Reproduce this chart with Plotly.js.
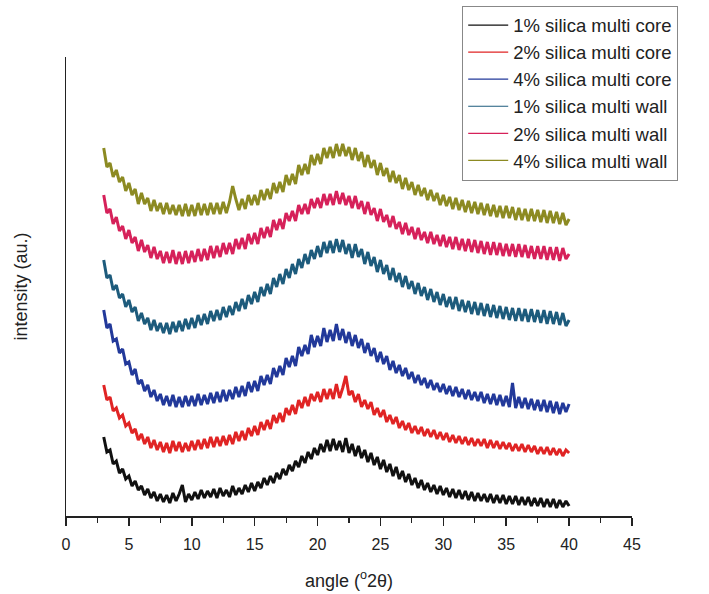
<!DOCTYPE html>
<html>
<head>
<meta charset="utf-8">
<script src="https://cdn.plot.ly/plotly-3.0.1.min.js"></script>
<style>html,body{margin:0;padding:0;background:#fff;}#chart{width:709px;height:594px;}</style>
</head>
<body>
<div id="chart"></div>
<script>
// angle grid (°2θ): 3.00 to 40.00 in 0.25 steps
const angleStart = 3, angleStep = 0.25;

const seriesNames = ["1% silica multi core", "2% silica multi core", "4% silica multi core",
                     "1% silica multi wall", "2% silica multi wall", "4% silica multi wall"];
const seriesColors = ["#111111", "#e02424", "#22399a", "#1d5b7c", "#d6215a", "#8c8a22"];

// intensities (arbitrary units, offset-stacked as in the figure)
const core1 = [
 79,64,66,52, 55,43,47,37, 40,30,35,26, 30,21,27,18, 24,15,22,14, 21,13,23,15, 22,31,14,22,
 16,24,17,26, 18,25,19,27, 18,28,20,26, 19,30,21,28, 22,31,24,33, 25,34,28,38, 31,40,33,43,
 37,47,41,51, 45,55,49,60, 53,64,57,68, 61,72,64,76, 65,77,66,75, 64,78,63,72, 60,70,58,66,
 54,63,51,59, 47,56,44,52, 40,49,37,45, 34,42,31,38, 28,36,26,33, 24,31,22,30, 21,28,19,27,
 18,26,17,25, 16,24,15,23, 15,22,14,22, 13,21,13,21, 12,20,12,20, 11,19,11,19, 10,18,10,18,
 9,17,9,17, 8,16,9,15, 10];
const core2 = [
 131,116,119,105, 108,98,101,90, 93,83,87,76, 82,72,79,68, 76,66,74,64, 73,63,75,65, 74,64,73,65,
 75,66,76,67, 77,68,79,69, 79,70,80,71, 81,72,84,75, 85,76,88,80, 90,81,94,86, 96,87,101,93,
 103,94,108,101, 111,102,116,108, 119,110,122,115, 124,114,127,117, 127,117,132,118, 128,140,121,125, 114,122,109,116,
 107,114,101,108, 99,106,94,101, 92,99,88,95, 86,93,83,90, 82,89,80,87, 79,86,77,84, 76,83,74,81,
 73,80,72,79, 71,78,70,77, 70,77,68,76, 68,75,67,74, 67,73,65,72, 65,72,64,71, 64,70,62,69,
 62,69,61,68, 61,67,60,66, 63];
const core4 = [
 206,188,192,175, 177,163,167,152, 154,141,147,132, 136,125,131,119, 126,115,122,111, 120,110,121,109, 119,109,120,110,
 120,110,122,111, 121,112,123,113, 124,114,126,115, 126,117,129,119, 130,120,134,124, 135,125,140,131, 141,132,148,139,
 150,141,158,149, 160,150,169,160, 171,162,181,169, 180,170,188,174, 186,175,192,176, 187,173,184,170, 181,168,177,163,
 173,160,168,154, 164,152,160,146, 155,143,151,140, 148,137,144,133, 141,131,138,128, 136,126,133,124, 132,122,130,120,
 129,119,127,117, 126,116,124,115, 124,113,122,112, 122,111,121,110, 120,109,133,108, 119,108,118,107, 117,106,116,105,
 116,104,115,103, 114,102,113,104, 112];
const wall1 = [
 256,238,241,226, 231,218,222,209, 216,204,209,195, 203,192,198,186, 196,185,193,183, 193,182,194,184, 195,185,197,187,
 198,188,201,191, 202,192,205,195, 206,196,209,199, 210,201,214,205, 217,207,221,212, 224,214,229,220, 232,222,238,229,
 242,232,247,238, 252,242,257,248, 262,252,266,257, 270,259,274,263, 275,263,277,264, 276,262,272,258, 272,259,267,252,
 264,250,259,244, 256,242,251,236, 248,234,243,229, 240,227,235,222, 233,220,229,216, 227,214,224,211, 222,209,219,207,
 219,205,216,204, 215,202,214,201, 213,200,212,199, 211,198,210,197, 209,196,208,195, 208,195,207,194, 207,194,206,193,
 206,192,205,192, 204,191,203,190, 196];
const wall2 = [
 321,303,307,292, 299,285,290,277, 286,273,279,265, 276,264,271,258, 269,257,265,253, 264,253,266,252, 264,252,265,253,
 265,254,267,255, 267,256,270,258, 270,259,273,262, 273,262,277,267, 278,267,282,272, 283,272,288,278, 289,279,296,286,
 297,287,303,295, 305,295,311,302, 312,302,317,308, 318,308,322,311, 322,311,325,312, 323,311,320,308, 320,307,315,302,
 314,301,308,295, 307,294,301,289, 300,287,294,282, 293,281,289,277, 288,276,284,273, 284,272,281,270, 281,269,279,267,
 279,266,277,265, 277,264,276,263, 275,262,274,261, 274,261,273,260, 272,260,272,259, 272,259,271,258, 270,257,270,257,
 270,256,269,256, 269,255,268,257, 262];
const wall4 = [
 368,349,353,339, 346,334,339,325, 333,321,327,312, 323,312,318,305, 316,305,313,302, 313,302,311,301, 311,300,312,300,
 311,300,313,301, 312,301,313,302, 313,302,314,303, 314,330,317,306, 317,307,321,311, 321,311,326,316, 327,317,333,323,
 334,324,341,331, 342,332,351,341, 352,342,361,351, 362,352,368,358, 369,358,372,360, 372,360,369,356, 368,355,364,349,
 361,348,356,341, 353,340,348,334, 345,333,341,327, 338,326,334,321, 331,320,328,316, 326,315,323,311, 321,310,319,307,
 318,306,316,304, 315,303,314,302, 313,301,312,300, 311,299,310,298, 310,298,309,296, 308,296,307,295, 307,295,306,294,
 306,293,305,293, 304,292,303,291, 297];

const allSeries = [core1, core2, core4, wall1, wall2, wall4];
const xTickVals = [0, 5, 10, 15, 20, 25, 30, 35, 40, 45];

const traces = allSeries.map((vals, k) => ({
  type: 'scatter', mode: 'lines',
  x: vals.map((_, i) => angleStart + i * angleStep),
  y: vals,
  name: seriesNames[k],
  legendgroup: 'g' + k,
  showlegend: false,
  line: {color: seriesColors[k], width: 3},
  hoverinfo: 'skip'
}));
// legend entries drawn with the thin sample lines seen in the figure's key
seriesNames.forEach((nm, k) => traces.push({
  type: 'scatter', mode: 'lines', x: [null], y: [null],
  name: nm, legendgroup: 'g' + k, showlegend: true,
  line: {color: seriesColors[k], width: 1.2}, hoverinfo: 'skip'
}));

const font = 'Liberation Sans, Arial, sans-serif';
const layout = {
  width: 709, height: 594,
  margin: {l: 66, r: 77, t: 57, b: 78, autoexpand: false},
  paper_bgcolor: '#ffffff', plot_bgcolor: '#ffffff',
  font: {family: font, color: '#222', size: 15},
  showlegend: true,
  legend: {
    x: 0.70, xanchor: 'left', y: 1.112, yanchor: 'top',
    bordercolor: '#888', borderwidth: 1, bgcolor: '#fff',
    font: {family: font, size: 18.5, color: '#222'},
    tracegroupgap: 0, itemwidth: 40
  },
  xaxis: {
    range: [0, 45], tickvals: xTickVals, ticktext: xTickVals.map(String),
    showgrid: false, zeroline: false, showline: true, linecolor: '#222', linewidth: 1.5,
    ticks: 'outside', ticklen: 8, tickwidth: 1.5, tickcolor: '#222',
    ticklabelstandoff: 5,
    minor: {dtick: 2.5, ticks: 'outside', ticklen: 5, tickwidth: 1.2, tickcolor: '#222', showgrid: false},
    tickfont: {size: 16, color: '#222'},
    title: {text: 'angle (<sup>o</sup>2θ)', font: {size: 18, color: '#222'}, standoff: 22}
  },
  yaxis: {
    range: [0, 459], showgrid: false, zeroline: false, showline: true, linecolor: '#222', linewidth: 1.5,
    showticklabels: false, ticks: '',
    title: {text: 'intensity (au.)', font: {size: 18, color: '#222'}, standoff: 32}
  }
};

Plotly.newPlot('chart', traces, layout, {displayModeBar: false, staticPlot: true});
</script>
</body>
</html>
